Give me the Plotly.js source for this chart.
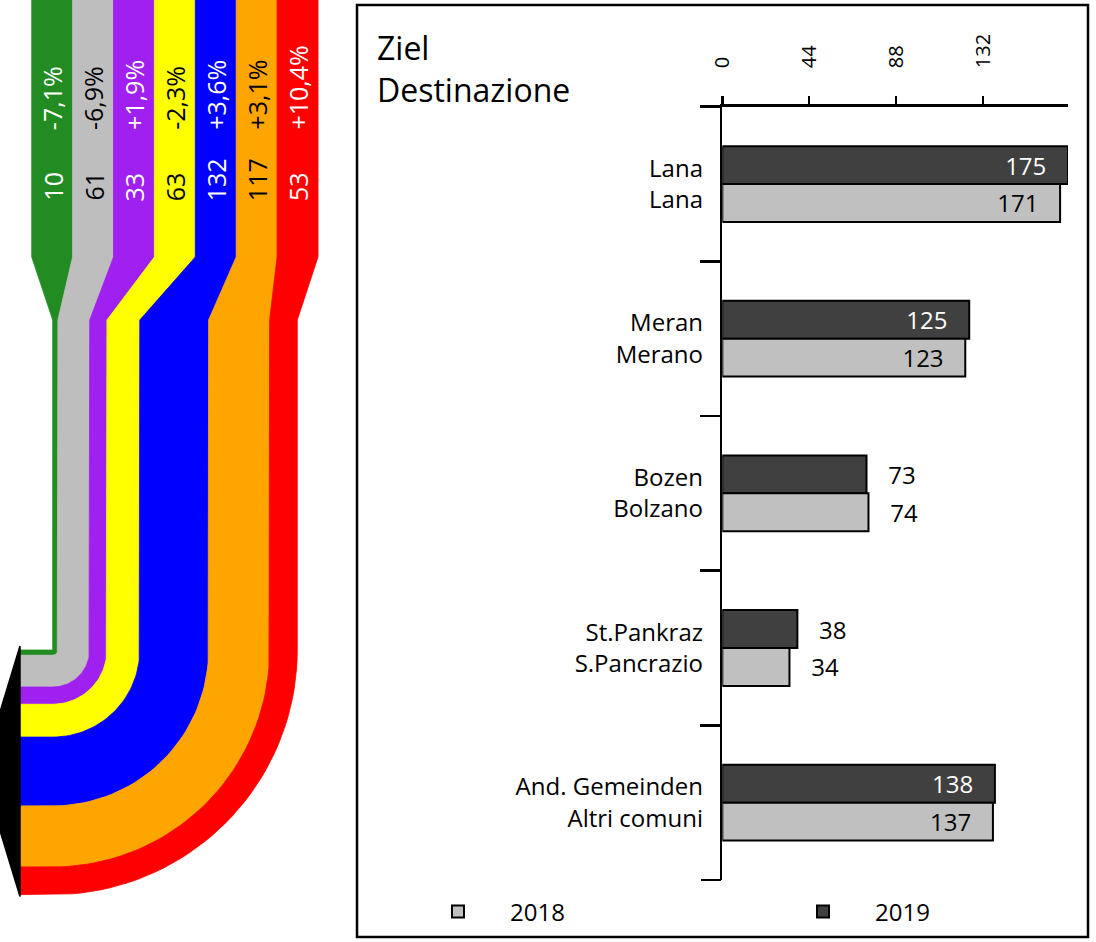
<!DOCTYPE html>
<html><head><meta charset="utf-8">
<script src="https://cdn.plot.ly/plotly-3.0.1.min.js"></script>
<style>html,body{margin:0;padding:0;background:#fff}#chart{width:1096px;height:942px}</style>
</head><body><div id="chart"></div>
<script>
// ---- Flow diagram data (left) ----
const flowValues = [10, 61, 33, 63, 132, 117, 53];
const flowChange = [-7.1, -6.9, 1.9, -2.3, 3.6, 3.1, 10.4];
const flowColors = ['#228B22', '#BEBEBE', '#A020F0', '#FFFF00', '#0000FF', '#FFA500', '#FF0000'];
const flowTextColors = ['white', 'black', 'white', 'black', 'white', 'black', 'white'];

// ---- Bar chart data (right) ----
const categories = ['Lana<br>Lana', 'Meran<br>Merano', 'Bozen<br>Bolzano', 'St.Pankraz<br>S.Pancrazio', 'And. Gemeinden<br>Altri comuni'];
const values2019 = [175, 125, 73, 38, 138];
const values2018 = [171, 123, 74, 34, 137];
const labelPos2019 = ['inside', 'inside', 'outside', 'outside', 'inside'];
const labelPos2018 = ['inside', 'inside', 'outside', 'outside', 'inside'];
const xTicks = [0, 44, 88, 132];

const FONT = 'Open Sans, Noto Sans, sans-serif';
const NB = '\u00a0\u00a0\u00a0';

// ---- Flow geometry (pixel-unit axes x2/y2) ----
const topX0 = 31.7, topW = 40.9, taperY0 = 257, taperY1 = 320;
const botX0 = 52.7, scale = 0.5215, cy = 650, endX = 20, N = 40;

const traces = [];
const annotations = [];
let cum = 0;
flowValues.forEach((v, i) => {
  const rIn = cum * scale, rOut = (cum + v) * scale;
  const xtL = topX0 + i * topW, xtR = xtL + topW;
  const xs = [], ys = [];
  const p = (x, y) => { xs.push(x); ys.push(y); };
  p(xtL, -3); p(xtL, taperY0); p(botX0 + rIn, taperY1); p(botX0 + rIn, cy);
  for (let k = 0; k <= N; k++) { const t = k / N * Math.PI / 2; p(botX0 + rIn * Math.cos(t), cy + rIn * Math.sin(t)); }
  p(endX, cy + rIn); p(endX, cy + rOut);
  for (let k = N; k >= 0; k--) { const t = k / N * Math.PI / 2; p(botX0 + rOut * Math.cos(t), cy + rOut * Math.sin(t)); }
  p(botX0 + rOut, taperY1); p(xtR, taperY0); p(xtR, -3);
  traces.push({
    type: 'scatter', mode: 'lines', xaxis: 'x2', yaxis: 'y2', x: xs, y: ys,
    fill: 'toself', fillcolor: flowColors[i], line: { color: flowColors[i], width: 0.8 },
    hoverinfo: 'skip', showlegend: false
  });
  const cx = xtL + topW / 2;
  annotations.push({
    xref: 'x2', yref: 'y2', x: cx, y: 203, text: String(v), textangle: -90,
    xanchor: 'center', yanchor: 'bottom', showarrow: false,
    font: { family: FONT, size: 25, color: flowTextColors[i] }
  });
  const pc = flowChange[i];
  annotations.push({
    xref: 'x2', yref: 'y2', x: cx, y: 132, text: (pc > 0 ? '+' : '') + pc.toFixed(1).replace('.', ',') + '%', textangle: -90,
    xanchor: 'center', yanchor: 'bottom', showarrow: false,
    font: { family: FONT, size: 25, color: flowTextColors[i] }
  });
  cum += v;
});
const arrowTop = cy - 4, arrowBot = cy + cum * scale + 2;
traces.push({
  type: 'scatter', mode: 'lines', xaxis: 'x2', yaxis: 'y2',
  x: [endX, -18, endX, endX], y: [arrowTop, (arrowTop + arrowBot) / 2, arrowBot, arrowTop],
  fill: 'toself', fillcolor: 'black', line: { color: 'black', width: 1.5 },
  hoverinfo: 'skip', showlegend: false
});

// ---- Bars ----
function barTrace(name, vals, pos, color, insideColor) {
  return {
    type: 'bar', orientation: 'h', name: name, y: categories, x: vals,
    marker: { color: color, line: { color: 'black', width: 2 } },
    textposition: pos,
    texttemplate: pos.map(q => q === 'inside' ? '%{x}' + NB : NB + '%{x}'),
    textfont: { family: FONT, size: 24, color: pos.map(q => q === 'inside' ? insideColor : 'black') },
    insidetextanchor: 'end', constraintext: 'none', cliponaxis: false,
    hoverinfo: 'skip'
  };
}
traces.push(barTrace('2019', values2019, labelPos2019, '#404040', 'white'));
traces.push(barTrace('2018', values2018, labelPos2018, '#C0C0C0', 'black'));
// empty helper trace so the boundary-tick axis (y3) is drawn
traces.push({ type: 'scatter', x: [], y: [], xaxis: 'x', yaxis: 'y3', showlegend: false, hoverinfo: 'skip' });

const W = 1096, H = 942;
const yDomain = [(H - 880) / H, (H - 106.7) / H];
const layout = {
  width: W, height: H,
  margin: { l: 0, r: 0, t: 0, b: 0, autoexpand: false },
  paper_bgcolor: 'white', plot_bgcolor: 'rgba(0,0,0,0)',
  font: { family: FONT, size: 24, color: 'black' },
  title: {
    text: 'Ziel<br>Destinazione', x: 377 / W, xanchor: 'left', xref: 'paper',
    y: 1 - 60 / H, yanchor: 'top', yref: 'paper',
    font: { family: FONT, size: 32, color: 'black' }
  },
  barmode: 'group', bargap: 0.51, bargroupgap: 0,
  xaxis: {
    domain: [722.3 / W, 1068 / W], range: [0, 175], side: 'top', anchor: 'y',
    showline: true, linewidth: 2.5, linecolor: 'black', mirror: false,
    ticks: 'outside', ticklen: 8, tickwidth: 2.5, tickcolor: 'black',
    tickmode: 'array', tickvals: xTicks, ticktext: xTicks.map(String), tickangle: -90,
    tickfont: { family: FONT, size: 20, color: 'black' }, ticklabelstandoff: 24,
    showgrid: false, zeroline: false, fixedrange: true
  },
  yaxis: {
    domain: yDomain, type: 'category', autorange: 'reversed',
    anchor: 'x', tickson: 'boundaries',
    showline: true, linewidth: 2.5, linecolor: 'black',
    ticks: 'outside', ticklen: 20, tickwidth: 2.5, tickcolor: 'black',
    tickfont: { family: FONT, size: 24, color: 'black' }, ticklabelstandoff: 12,
    showgrid: false, zeroline: false, fixedrange: true
  },
  yaxis3: {
    domain: yDomain, overlaying: 'y', anchor: 'x', side: 'left',
    range: [categories.length - 0.5, -0.5], tickmode: 'array', tickvals: [-0.5, categories.length - 0.5],
    showticklabels: false, ticks: 'outside', ticklen: 20, tickwidth: 2.5, tickcolor: 'black',
    showline: false, showgrid: false, zeroline: false, fixedrange: true
  },
  xaxis2: { domain: [0, 330 / W], range: [0, 330], anchor: 'y2', visible: false, fixedrange: true },
  yaxis2: { domain: [0, 1], range: [H, 0], anchor: 'x2', visible: false, fixedrange: true },
  showlegend: true,
  legend: {
    orientation: 'h', traceorder: 'reversed', x: 406 / W, xanchor: 'left', y: (H - 912) / H, yanchor: 'middle',
    font: { family: FONT, size: 24, color: 'black' }, itemwidth: 94,
    entrywidth: 256, entrywidthmode: 'pixels', bgcolor: 'rgba(0,0,0,0)'
  },
  shapes: [{
    type: 'rect', xref: 'paper', yref: 'paper',
    x0: 357 / W, x1: 1088 / W, y0: (H - 937) / H, y1: (H - 5) / H,
    line: { color: 'black', width: 2.5 }, fillcolor: 'rgba(0,0,0,0)', layer: 'below'
  }],
  annotations: annotations
};

Plotly.newPlot('chart', traces, layout, { staticPlot: true, displayModeBar: false });
</script>
</body></html>
